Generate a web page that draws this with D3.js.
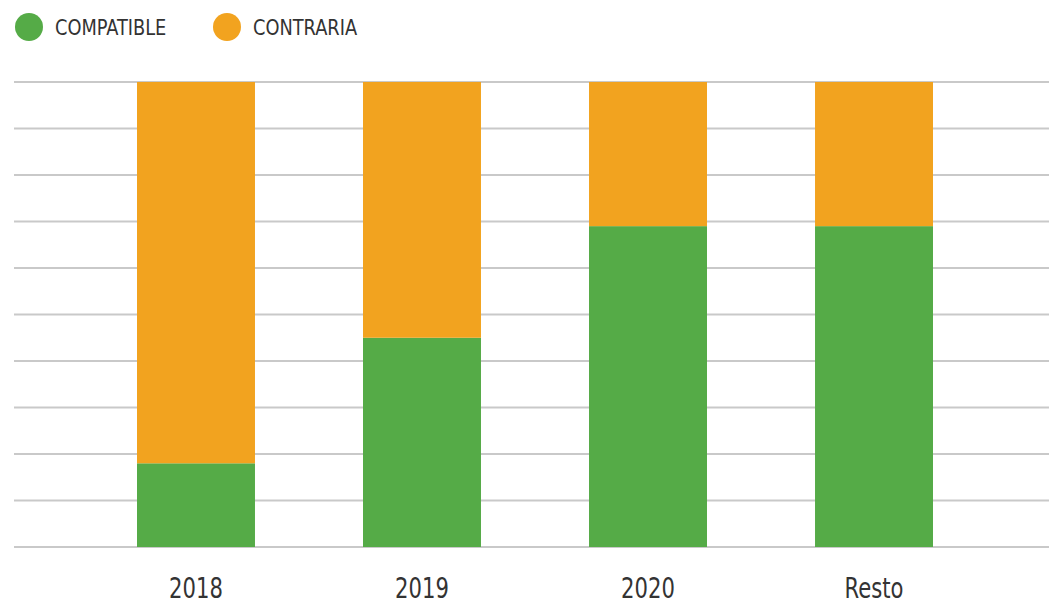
<!DOCTYPE html>
<html>
<head>
<meta charset="utf-8">
<script src="https://cdn.jsdelivr.net/npm/d3@7"></script>
<style>
  html, body { margin: 0; padding: 0; background: #fff; }
  svg { display: block; }
  text { font-family: "DejaVu Sans Condensed", "Liberation Sans Narrow", "Open Sans", sans-serif; fill: #333; }
</style>
</head>
<body>
<svg id="chart" width="1049" height="606"></svg>
<script>
// Share of rulings per period (percent)
const categories = ["2018", "2019", "2020", "Resto"];
const compatible = [18, 45, 69, 69];
const contraria = [82, 55, 31, 31];
const seriesNames = ["COMPATIBLE", "CONTRARIA"];
const seriesColors = ["#55ab47", "#f2a31f"];
const yTicks = [0, 10, 20, 30, 40, 50, 60, 70, 80, 90, 100];

const svg = d3.select("#chart");
const W = 1049, H = 606;
const margin = { left: 14, right: 0, top: 82, bottom: 59 };

const rows = categories.map((c, i) => ({ cat: c, COMPATIBLE: compatible[i], CONTRARIA: contraria[i] }));
const stack = d3.stack().keys(seriesNames)(rows);

const x = d3.scaleBand()
  .domain(categories)
  .range([24, 1046])
  .paddingInner(0.478)
  .paddingOuter(0.5);

const y = d3.scaleLinear().domain([0, 100]).range([H - margin.bottom, margin.top]);

// Horizontal gridlines
svg.append("g")
  .selectAll("line")
  .data(yTicks)
  .join("line")
  .attr("x1", margin.left)
  .attr("x2", W)
  .attr("y1", d => y(d))
  .attr("y2", d => y(d))
  .attr("stroke", "#c9c9c9")
  .attr("stroke-width", 2);

// Stacked bars
svg.append("g")
  .selectAll("g")
  .data(stack)
  .join("g")
  .attr("fill", (d, i) => seriesColors[i])
  .selectAll("rect")
  .data(d => d)
  .join("rect")
  .attr("x", d => x(d.data.cat))
  .attr("width", x.bandwidth())
  .attr("y", d => y(d[1]))
  .attr("height", d => y(d[0]) - y(d[1]));

// Category axis (labels set in a tall, narrow face)
const xAxis = svg.append("g")
  .attr("transform", `translate(0,${H - margin.bottom})`)
  .call(d3.axisBottom(x).tickSize(0).tickPadding(0));
xAxis.select(".domain").remove();
xAxis.selectAll(".tick text")
  .attr("y", 0)
  .attr("dy", 0)
  .attr("transform", "translate(0,51) scale(0.84,1)")
  .style("font-size", "28px")
  .attr("fill", "#333");

// Legend
const legendX = [29, 227];
const legend = svg.append("g")
  .selectAll("g")
  .data(seriesNames)
  .join("g")
  .attr("transform", (d, i) => `translate(${legendX[i]},27)`);
legend.append("circle")
  .attr("r", 14)
  .attr("fill", (d, i) => seriesColors[i]);
legend.append("text")
  .attr("transform", "translate(26,8) scale(0.9,1)")
  .style("font-size", "22px")
  .text(d => d);
</script>
</body>
</html>
